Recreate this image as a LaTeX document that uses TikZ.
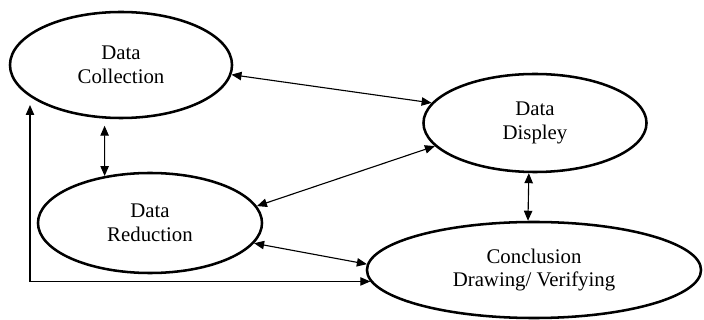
\documentclass[tikz,border=0pt]{standalone}
\usepackage{fontspec}
\setmainfont{Liberation Serif}
\usetikzlibrary{shapes.geometric,arrows.meta}
\tikzset{
	stage/.style={ellipse, draw, line width=1.8pt, inner sep=0pt, align=center,
		font=\fontsize{14.8}{17}\selectfont},
	link/.style={{Triangle[length=2.5mm,width=2.1mm]}-{Triangle[length=2.5mm,width=2.1mm]}, line width=0.8pt}
}
\begin{document}
\begin{tikzpicture}[x=0.025cm, y=-0.025cm]
	\useasboundingbox (0,0) rectangle (704,320);
	\node[stage, minimum width=5.55cm, minimum height=2.65cm] (coll) at (121,65) {Data\\Collection};
	\node[stage, minimum width=5.575cm, minimum height=2.45cm] (disp) at (535,123) {Data\\Displey};
	\node[stage, minimum width=5.6cm, minimum height=2.5cm] (red) at (150,223) {Data\\Reduction};
	\node[stage, minimum width=8.35cm, minimum height=2.4cm] (conc) at (534,270) {Conclusion\\Drawing/ Verifying};
	\coordinate (colltip) at (30,105);

	\draw[link] (coll.-5) -- (disp.169);
	\draw[link] (red.9) -- (disp.193);
	\draw[link] (red.-11) -- (conc.178);
	\draw[link, shorten <=5pt] (coll.253) -- (red.134);
	\draw[link] (disp.263) -- (conc.97);
	% back to the start
	\draw[link] (colltip) |- (conc.184);
\end{tikzpicture}
\end{document}
